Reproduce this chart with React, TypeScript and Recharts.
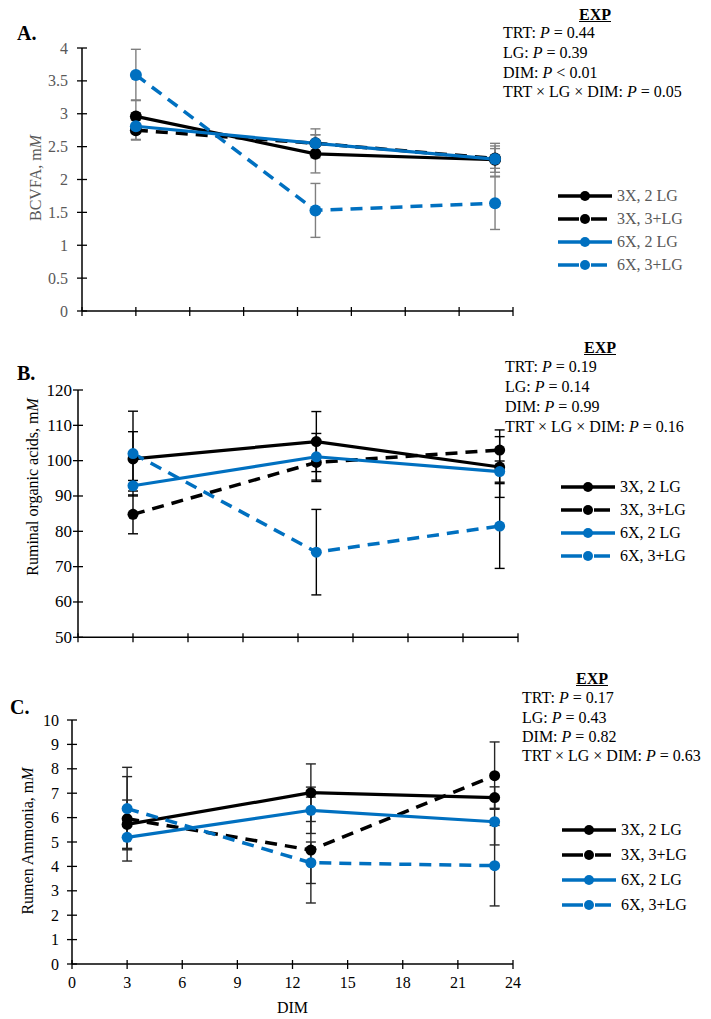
import { ErrorBar, Label, Legend, Line, LineChart, XAxis, YAxis } from 'recharts'

const FONT = '"Liberation Serif", "Times New Roman", serif'
const BLACK = '#000000'
const BLUE = '#0070C0'
const GREY_TEXT = '#595959'
const FS = 16

const dims = [3, 13, 23]
const xTicks = [0, 3, 6, 9, 12, 15, 18, 21, 24]
const seriesNames = ['3X, 2 LG', '3X, 3+LG', '6X, 2 LG', '6X, 3+LG']
const seriesColors = [BLACK, BLACK, BLUE, BLUE]
const seriesDashed = [false, true, false, true]

// A. BCVFA, mM
const bcvfa3x2 = [2.96, 2.39, 2.3]
const bcvfa3x3 = [2.75, 2.55, 2.32]
const bcvfa6x2 = [2.81, 2.55, 2.31]
const bcvfa6x3 = [3.59, 1.53, 1.64]
const bcvfa3x2Se = [0.25, 0.29, 0.25]
const bcvfa3x3Se = [0.15, 0.13, 0.15]
const bcvfa6x2Se = [0.2, 0.22, 0.2]
const bcvfa6x3Se = [0.39, 0.41, 0.4]
const bcvfaTicks = [0, 0.5, 1, 1.5, 2, 2.5, 3, 3.5, 4]
const bcvfaStats = [
  ['TRT', '=', '0.44'],
  ['LG', '=', '0.39'],
  ['DIM', '<', '0.01'],
  ['TRT × LG × DIM', '=', '0.05'],
]

// B. Ruminal organic acids, mM
const oa3x2 = [100.5, 105.4, 98.2]
const oa3x3 = [84.8, 99.5, 103]
const oa6x2 = [92.9, 101.1, 96.9]
const oa6x3 = [102, 74.1, 81.5]
const oa3x2Se = [7.7, 8.5, 8.6]
const oa3x3Se = [5.5, 5.4, 5.7]
const oa6x2Se = [1.5, 6.6, 3]
const oa6x3Se = [12, 12.1, 12]
const oaTicks = [50, 60, 70, 80, 90, 100, 110, 120]
const oaStats = [
  ['TRT', '=', '0.19'],
  ['LG', '=', '0.14'],
  ['DIM', '=', '0.99'],
  ['TRT × LG × DIM', '=', '0.16'],
]

// C. Rumen ammonia, mM
const nh3x2 = [5.72, 7.02, 6.82]
const nh3x3 = [5.95, 4.67, 7.72]
const nh6x2 = [5.19, 6.3, 5.83]
const nh6x3 = [6.37, 4.15, 4.03]
const nh3x2Se = [1.0, 1.18, 0.44]
const nh3x3Se = [1.73, 2.17, 1.38]
const nh6x2Se = [0.45, 0.95, 0.95]
const nh6x3Se = [1.69, 0.85, 1.65]
const nhTicks = [0, 1, 2, 3, 4, 5, 6, 7, 8, 9, 10]
const nhStats = [
  ['TRT', '=', '0.17'],
  ['LG', '=', '0.43'],
  ['DIM', '=', '0.82'],
  ['TRT × LG × DIM', '=', '0.63'],
]

interface PanelProps {
  letter: string
  letterPos: { left: number; cy: number }
  top: number
  height: number
  values: number[][]
  errors: number[][]
  domain: [number, number]
  ticks: number[]
  margin: { top: number; right: number; bottom: number; left: number }
  yWidth: number
  xHeight: number
  showXLabels: boolean
  tickGap: number
  tickFont: number
  textColor: string
  errColor: string
  yLabel: string
  yLabelPos: { x: number; y: number }
  dotR: number
  stats: string[][]
  statsLeft: number
  statsTop: number
  statsStep: number
  expPos: { cx: number; cy: number }
  legendLeft: number
  legendTop: number
  legendStep: number
}

function LegendRows({ step, color }: { step: number; color: string }) {
  return (
    <div style={{ fontFamily: FONT, fontSize: FS, color }}>
      {seriesNames.map((name, i) => (
        <div key={name} style={{ height: step, display: 'flex', alignItems: 'center' }}>
          <svg width={59} height={14}>
            {seriesDashed[i] ? (
              <>
                <line x1={0} x2={21} y1={7} y2={7} stroke={seriesColors[i]} strokeWidth={3.5} />
                <line x1={33} x2={49} y1={7} y2={7} stroke={seriesColors[i]} strokeWidth={3.5} />
              </>
            ) : (
              <line x1={0} x2={54} y1={7} y2={7} stroke={seriesColors[i]} strokeWidth={3.5} />
            )}
            <circle cx={27} cy={7} r={5} fill={seriesColors[i]} />
          </svg>
          <span>{name}</span>
        </div>
      ))}
    </div>
  )
}

function Panel(p: PanelProps) {
  const rows = dims.map((d, i) => {
    const r: Record<string, number> = { dim: d }
    p.values.forEach((v, k) => {
      r[`s${k}`] = v[i]
      r[`e${k}`] = p.errors[k][i]
    })
    return r
  })

  const xTick = (props: any) => {
    const { x, y, payload } = props
    return (
      <g>
        <line x1={x} x2={x} y1={y - 4} y2={y + 5} stroke={BLACK} strokeWidth={1.3} />
        {p.showXLabels && (
          <text x={x} y={y + 24} textAnchor="middle" fontFamily={FONT} fontSize={FS} fill={BLACK}>
            {payload.value}
          </text>
        )}
      </g>
    )
  }

  const yTick = (props: any) => {
    const { x, y, payload } = props
    return (
      <g>
        <line x1={x - 5} x2={x + 5} y1={y} y2={y} stroke={BLACK} strokeWidth={1.3} />
        <text x={x - p.tickGap} y={y + 5.5} textAnchor="end" fontFamily={FONT} fontSize={p.tickFont} fill={p.textColor}>
          {String(payload.value)}
        </text>
      </g>
    )
  }

  return (
    <div style={{ position: 'absolute', left: 0, top: p.top, width: 711, height: p.height }}>
      <LineChart width={711} height={p.height} data={rows} margin={p.margin}>
        <XAxis
          dataKey="dim"
          type="number"
          domain={[0, 24]}
          ticks={xTicks}
          interval={0}
          height={p.xHeight}
          stroke={BLACK}
          strokeWidth={1.5}
          tickLine={false}
          tickSize={0}
          tickMargin={0}
          tick={xTick}
        >
          {p.showXLabels && (
            <Label
              content={(lp: any) => {
                const vb = lp.viewBox || {}
                return (
                  <text x={vb.x + vb.width / 2} y={vb.y + 49} textAnchor="middle" fontFamily={FONT} fontSize={FS} fill={BLACK}>
                    DIM
                  </text>
                )
              }}
            />
          )}
        </XAxis>
        <YAxis
          type="number"
          domain={p.domain}
          ticks={p.ticks}
          interval={0}
          width={p.yWidth}
          stroke={BLACK}
          strokeWidth={1.5}
          tickLine={false}
          tickSize={0}
          tickMargin={0}
          tick={yTick}
        >
          <Label
            content={() => (
              <text
                x={p.yLabelPos.x}
                y={p.yLabelPos.y}
                transform={`rotate(-90 ${p.yLabelPos.x} ${p.yLabelPos.y})`}
                textAnchor="middle"
                dominantBaseline="central"
                fontFamily={FONT}
                fontSize={FS}
                fill={p.textColor}
              >
                {p.yLabel}
                <tspan fontStyle="italic">M</tspan>
              </text>
            )}
          />
        </YAxis>
        {seriesNames.map((name, k) => (
          <Line
            key={name}
            name={name}
            dataKey={`s${k}`}
            stroke={seriesColors[k]}
            strokeWidth={seriesDashed[k] ? 3.5 : 3.2}
            strokeDasharray={seriesDashed[k] ? '12 8' : undefined}
            dot={{ r: p.dotR, fill: seriesColors[k], stroke: seriesColors[k], strokeWidth: 0 }}
            activeDot={false}
            isAnimationActive={false}
          >
            <ErrorBar dataKey={`e${k}`} direction="y" width={5} stroke={p.errColor} strokeWidth={1.4} isAnimationActive={false} />
          </Line>
        ))}
        <Legend
          layout="vertical"
          align="center"
          verticalAlign="middle"
          wrapperStyle={{ left: p.legendLeft, top: p.legendTop, width: 150, height: p.legendStep * 4 }}
          content={() => <LegendRows step={p.legendStep} color={p.textColor} />}
        />
      </LineChart>

      <div
        style={{
          position: 'absolute',
          left: p.letterPos.left,
          top: p.letterPos.cy - 12,
          fontFamily: FONT,
          fontSize: 20,
          fontWeight: 'bold',
          lineHeight: '24px',
        }}
      >
        {p.letter}
      </div>

      <div
        style={{
          position: 'absolute',
          left: p.expPos.cx - 40,
          width: 80,
          top: p.expPos.cy - 10,
          textAlign: 'center',
          fontFamily: FONT,
          fontSize: FS,
          fontWeight: 'bold',
          textDecoration: 'underline',
          lineHeight: '20px',
        }}
      >
        EXP
      </div>
      <div
        style={{
          position: 'absolute',
          left: p.statsLeft,
          top: p.statsTop - p.statsStep / 2,
          fontFamily: FONT,
          fontSize: FS,
          lineHeight: `${p.statsStep}px`,
          whiteSpace: 'nowrap',
        }}
      >
        {p.stats.map(([name, op, val]) => (
          <div key={name}>
            {name}: <i>P</i> {op} {val}
          </div>
        ))}
      </div>
    </div>
  )
}

export default function App() {
  return (
    <div style={{ position: 'absolute', left: 0, top: 0, width: 711, height: 1019, background: '#fff' }}>
      <Panel
        letter="A."
        letterPos={{ left: 17, cy: 33 }}
        top={0}
        height={330}
        values={[bcvfa3x2, bcvfa3x3, bcvfa6x2, bcvfa6x3]}
        errors={[bcvfa3x2Se, bcvfa3x3Se, bcvfa6x2Se, bcvfa6x3Se]}
        domain={[0, 4]}
        ticks={bcvfaTicks}
        margin={{ top: 48, right: 198, bottom: 0, left: 0 }}
        yWidth={82}
        xHeight={19}
        showXLabels={false}
        tickGap={14}
        tickFont={FS}
        textColor={GREY_TEXT}
        errColor="#7F7F7F"
        yLabel="BCVFA, m"
        yLabelPos={{ x: 35, y: 178 }}
        dotR={6}
        stats={bcvfaStats}
        statsLeft={503}
        statsTop={33}
        statsStep={19.7}
        expPos={{ cx: 595, cy: 15 }}
        legendLeft={558}
        legendTop={196 - 11.5}
        legendStep={23}
      />
      <Panel
        letter="B."
        letterPos={{ left: 17, cy: 43 }}
        top={330}
        height={330}
        values={[oa3x2, oa3x3, oa6x2, oa6x3]}
        errors={[oa3x2Se, oa3x3Se, oa6x2Se, oa6x3Se]}
        domain={[50, 120]}
        ticks={oaTicks}
        margin={{ top: 60, right: 193, bottom: 0, left: 0 }}
        yWidth={78}
        xHeight={22.7}
        showXLabels={false}
        tickGap={6}
        tickFont={17}
        textColor={BLACK}
        errColor={BLACK}
        yLabel="Ruminal organic acids, m"
        yLabelPos={{ x: 32, y: 157 }}
        dotR={5.5}
        stats={oaStats}
        statsLeft={505}
        statsTop={37}
        statsStep={19.9}
        expPos={{ cx: 600, cy: 18 }}
        legendLeft={561}
        legendTop={157 - 11.5}
        legendStep={23}
      />
      <Panel
        letter="C."
        letterPos={{ left: 10, cy: 57 }}
        top={650}
        height={369}
        values={[nh3x2, nh3x3, nh6x2, nh6x3]}
        errors={[nh3x2Se, nh3x3Se, nh6x2Se, nh6x3Se]}
        domain={[0, 10]}
        ticks={nhTicks}
        margin={{ top: 70, right: 198, bottom: 0, left: 0 }}
        yWidth={72}
        xHeight={55}
        showXLabels={true}
        tickGap={13}
        tickFont={FS}
        textColor={BLACK}
        errColor="#262626"
        yLabel="Rumen Ammonia, m"
        yLabelPos={{ x: 27, y: 191 }}
        dotR={5.5}
        stats={nhStats}
        statsLeft={522}
        statsTop={48}
        statsStep={19.3}
        expPos={{ cx: 592, cy: 29 }}
        legendLeft={562}
        legendTop={180 - 12.5}
        legendStep={25}
      />
    </div>
  )
}
